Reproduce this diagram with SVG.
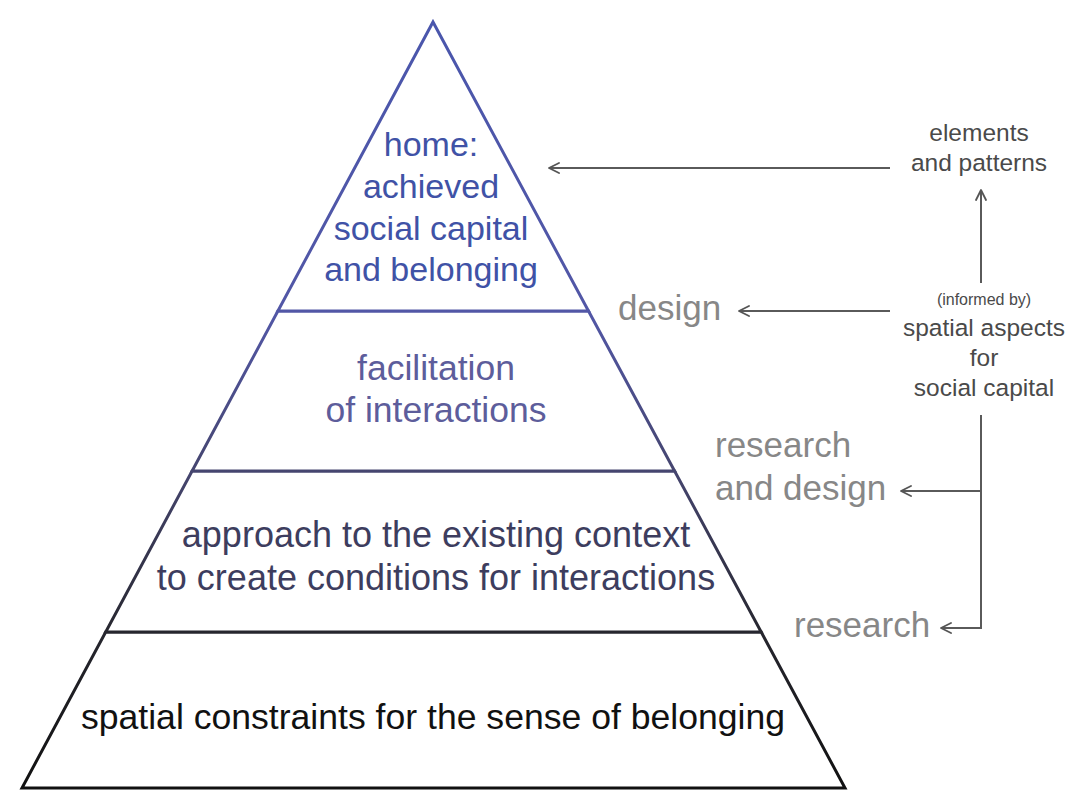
<svg xmlns="http://www.w3.org/2000/svg" width="1080" height="791" viewBox="0 0 1080 791">
  <defs>
    <linearGradient id="edge" gradientUnits="userSpaceOnUse" x1="0" y1="22" x2="0" y2="788">
      <stop offset="0" stop-color="#4a56ac"/>
      <stop offset="0.38" stop-color="#5257a6"/>
      <stop offset="0.59" stop-color="#45456e"/>
      <stop offset="0.8" stop-color="#26262e"/>
      <stop offset="1" stop-color="#111111"/>
    </linearGradient>
    <marker id="arr" viewBox="0 0 12 12" refX="11" refY="6" markerWidth="12" markerHeight="12" markerUnits="userSpaceOnUse" orient="auto">
      <path d="M1,1 L11,6 L1,11" fill="none" stroke="#555" stroke-width="1.8" stroke-linecap="round" stroke-linejoin="round"/>
    </marker>
  </defs>
  <style>
    text { font-family: "Liberation Sans", Arial, sans-serif; text-anchor: middle; }
    .layer { fill: #ffffff; stroke: url(#edge); stroke-width: 3; stroke-linejoin: miter; }
    .t1 { font-size: 34px; fill: #4052a6; }
    .t2 { font-size: 35.5px; fill: #5d5d9b; }
    .t3 { font-size: 36px; fill: #3d3d5e; }
    .t4 { font-size: 35.6px; fill: #111111; }
    .lbl { font-size: 35px; fill: #878787; text-anchor: start; }
    .src { font-size: 24.5px; fill: #4a4a4a; }
    .small { font-size: 16px; fill: #4a4a4a; }
    .conn { fill: none; stroke: #5a5a5a; stroke-width: 2; }
  </style>
  <rect width="1080" height="791" fill="#ffffff"/>

  <g id="layer-base">
    <polygon class="layer" points="105.7,632 761.2,632 845,788 22,788"/>
    <text class="t4" x="433" y="729">spatial constraints for the sense of belonging</text>
  </g>
  <g id="layer-approach">
    <polygon class="layer" points="192.1,471 674.6,471 761.2,632 105.7,632"/>
    <text class="t3" x="436" y="547">approach to the existing context</text>
    <text class="t3" x="436" y="590">to create conditions for interactions</text>
  </g>
  <g id="layer-facilitation">
    <polygon class="layer" points="277.9,311 588.5,311 674.6,471 192.1,471"/>
    <text class="t2" x="436" y="380">facilitation</text>
    <text class="t2" x="436" y="422">of interactions</text>
  </g>
  <g id="layer-home">
    <polygon class="layer" points="433,22 588.5,311 277.9,311"/>
    <text class="t1" x="431" y="156">home:</text>
    <text class="t1" x="431" y="198">achieved</text>
    <text class="t1" x="431" y="240">social capital</text>
    <text class="t1" x="431" y="281">and belonging</text>
  </g>

  <g id="label-design">
    <text class="lbl" x="618" y="320">design</text>
  </g>
  <g id="label-research-design">
    <text class="lbl" x="715" y="457">research</text>
    <text class="lbl" x="715" y="500">and design</text>
  </g>
  <g id="label-research">
    <text class="lbl" x="794" y="637">research</text>
  </g>
  <g id="elements-patterns">
    <text class="src" x="979" y="141">elements</text>
    <text class="src" x="979" y="171">and patterns</text>
  </g>
  <g id="spatial-aspects">
    <text class="small" x="984" y="305">(informed by)</text>
    <text class="src" x="984" y="336">spatial aspects</text>
    <text class="src" x="984" y="366">for</text>
    <text class="src" x="984" y="396">social capital</text>
  </g>

  <g id="connectors">
    <line class="conn" x1="890" y1="168" x2="549" y2="168" marker-end="url(#arr)"/>
    <line class="conn" x1="890" y1="311" x2="739" y2="311" marker-end="url(#arr)"/>
    <line class="conn" x1="981" y1="283" x2="981" y2="190" marker-end="url(#arr)"/>
    <polyline class="conn" points="981,415 981,628 941,628" marker-end="url(#arr)"/>
    <line class="conn" x1="981" y1="491" x2="901" y2="491" marker-end="url(#arr)"/>
  </g>
</svg>
